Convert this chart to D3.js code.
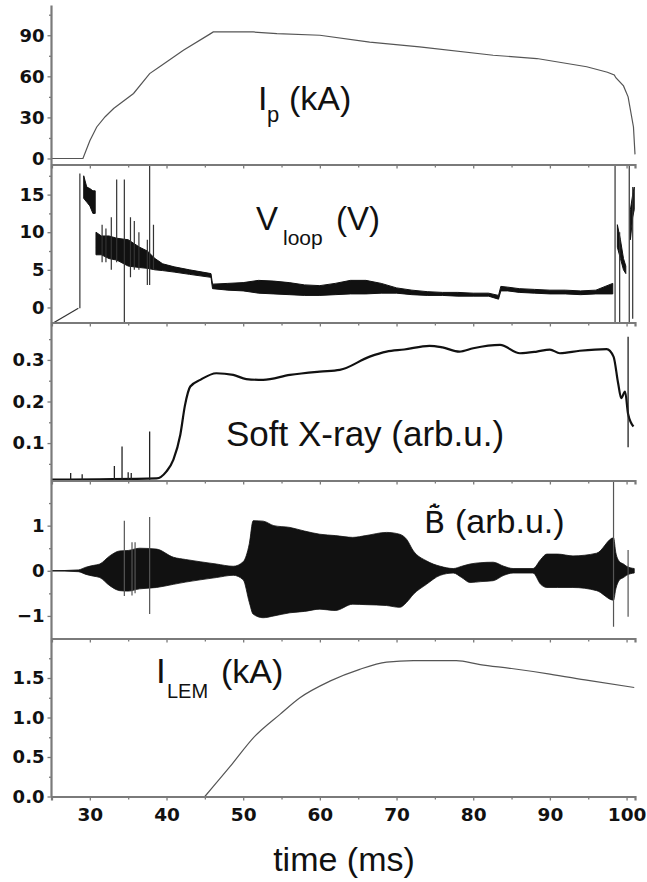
<!DOCTYPE html>
<html>
<head>
<meta charset="utf-8">
<script src="https://cdn.jsdelivr.net/npm/d3@7"></script>
<style>
  body { margin: 0; background: #fff; }
  svg { display: block; }
</style>
</head>
<body>
<div id="chart"></div>
<script>
// ---- data ----
// plasma current Ip (kA)
const ipT = [25, 29.1, 30.0, 30.9, 32.0, 33.1, 35.7, 37.8, 39.1, 42.2, 45.7, 46.1, 51.3, 54.4, 60.0, 66.5, 73.0, 82.6, 88.3, 94.8, 97.5, 98.4, 98.6, 99.6, 100.2, 100.9, 101.1]
const ipV = [0, 0, 13, 23, 30.5, 36.5, 47.5, 62, 67, 79, 91, 92.4, 92.4, 91.2, 90, 85, 81.5, 75.4, 73, 67, 63, 61, 59, 53, 45, 23, 3]

// loop voltage (V): ramp before breakdown, noisy band (low/high), spikes [t, low, high]
const vRampT = [24.5, 28.5]
const vRampV = [-2.5, -0.1]
const vBandT  = [29.2, 29.6, 30.0, 30.4, 30.7, null, 30.8, 31.5, 32.5, 33.5, 35, 36.5, 37.5, 38.5, 39.5, 41, 43, 45.8, 46.0, 48, 50, 52, 54, 56, 58, 60, 62, 64, 66, 68, 70, 72, 74, 76, 78, 80, 82, 83.3, 83.6, 84.5, 86, 88, 90, 92, 94, 96, 98.2, null, 98.8, 99.2, 99.6, 99.9, null, 100.5, 100.8, 101.0]
const vBandLo = [14.5, 14, 13.5, 12.5, 12.5, null, 7, 7, 6.5, 6.3, 5.5, 5.3, 5.2, 5.0, 4.9, 4.7, 4.4, 4.0, 2.5, 2.3, 2.2, 1.9, 1.8, 1.7, 1.6, 1.6, 1.7, 1.8, 1.8, 1.9, 1.9, 1.7, 1.6, 1.6, 1.5, 1.5, 1.5, 1.1, 2.2, 2.2, 2.0, 1.9, 1.8, 1.8, 1.7, 1.8, 1.8, null, 8, 6.5, 5, 4.5, null, 9, 12, 13]
const vBandHi = [17.5, 16, 15.8, 15.5, 15.5, null, 10, 9.5, 9.5, 9.2, 9, 8, 7.5, 6.5, 5.8, 5.4, 5.0, 4.5, 3.1, 3.2, 3.3, 3.6, 3.5, 3.3, 3.0, 2.9, 3.2, 3.6, 3.6, 3.2, 2.6, 2.3, 2.1, 2.0, 2.0, 1.9, 1.9, 1.6, 2.8, 2.7, 2.5, 2.4, 2.3, 2.3, 2.2, 2.3, 3.2, null, 11, 9, 6.5, 5.5, null, 13, 15, 16]
const vSpikes = [[28.7, -0.1, 17.8], [31.6, 6, 11], [32.1, 6, 10.5], [32.8, 5, 12], [33.5, 6, 17], [34.5, -2, 17], [35.3, 4, 12], [35.8, 5, 11.5], [36.4, 5, 10], [37.5, 3, 9], [37.8, 3, 19], [38.3, 5, 11], [98.5, -2, 19], [99.1, -2, 10], [100.35, -2, 19], [100.8, -1.5, 16]]

// soft X-ray (arb.u.)
const sxT = [25, 38.7, 40.0, 40.9, 41.8, 42.4, 43.1, 44.4, 46.5, 48.7, 50.4, 52.6, 56.1, 60, 62.6, 66.5, 68.7, 71, 74.3, 76, 78.2, 80, 83.5, 86.1, 88.3, 90, 91.3, 93.9, 97.4, 98.3, 98.9, 99.3, 99.8, 100.2, 100.9]
const sxV = [0.012, 0.015, 0.032, 0.06, 0.12, 0.19, 0.236, 0.252, 0.268, 0.264, 0.254, 0.252, 0.264, 0.272, 0.276, 0.308, 0.32, 0.325, 0.334, 0.33, 0.32, 0.328, 0.336, 0.316, 0.32, 0.325, 0.316, 0.322, 0.326, 0.308, 0.244, 0.208, 0.224, 0.17, 0.14]
const sxSpikes = [[27.5, 0.012, 0.028], [29.0, 0.012, 0.025], [33.2, 0.012, 0.045], [34.2, 0.012, 0.092], [35.0, 0.012, 0.03], [35.4, 0.012, 0.028], [37.8, 0.012, 0.128], [100.2, 0.09, 0.356]]

// magnetic fluctuation dB/dt (arb.u.) envelope
const bT  = [25, 28.5, 29.5, 30.5, 31.3, 32.6, 33.9, 35, 36.5, 38.7, 40.9, 42.5, 44.4, 46.5, 48.7, 50.0, 50.8, 51.3, 52.6, 54, 56.1, 58, 60, 62, 64.3, 66, 68.7, 70.4, 71.3, 72.2, 73.9, 75.7, 77.4, 78.5, 79.6, 81, 82.6, 84, 85.2, 87.8, 88.8, 89.6, 91, 93.0, 96.1, 98.3, 98.6, 99.1, 99.6, 100.0, 101]
const bHi = [0, 0.02, 0.08, 0.12, 0.15, 0.33, 0.44, 0.45, 0.5, 0.48, 0.3, 0.25, 0.2, 0.15, 0.1, 0.2, 0.6, 1.11, 1.1, 1.0, 0.96, 0.88, 0.81, 0.78, 0.74, 0.78, 0.85, 0.81, 0.7, 0.44, 0.22, 0.1, 0.05, 0.1, 0.15, 0.18, 0.19, 0.1, 0.05, 0.05, 0.25, 0.37, 0.37, 0.33, 0.39, 0.73, 0.4, 0.2, 0.15, 0.1, 0.05]
const bLo = [0, -0.02, -0.08, -0.12, -0.15, -0.33, -0.44, -0.45, -0.4, -0.37, -0.3, -0.25, -0.2, -0.15, -0.1, -0.2, -0.7, -0.96, -1.04, -1.0, -0.93, -0.9, -0.85, -0.88, -0.74, -0.75, -0.77, -0.81, -0.7, -0.52, -0.3, -0.1, -0.05, -0.15, -0.26, -0.24, -0.22, -0.1, -0.05, -0.05, -0.3, -0.37, -0.37, -0.37, -0.44, -0.65, -0.4, -0.2, -0.15, -0.1, -0.05]
const bSpikes = [[34.5, -0.56, 1.11], [35.5, -0.55, 0.63], [35.9, -0.5, 0.63], [37.8, -0.96, 1.19], [98.3, -1.24, 2.0], [100.2, -1.02, 0.46]]

// LEM current (kA)
const lemT = [45.0, 48.3, 51.5, 54.8, 57.4, 61.3, 65.2, 68.7, 72.2, 77.8, 80.9, 85, 90, 95, 101]
const lemV = [0, 0.38, 0.76, 1.04, 1.25, 1.46, 1.61, 1.70, 1.72, 1.72, 1.67, 1.62, 1.55, 1.47, 1.38]

// axes
const xDomain = [25, 101.1]
const xTicks = [30, 40, 50, 60, 70, 80, 90, 100]
const xMinor = [25, 35, 45, 55, 65, 75, 85, 95]
const yDomains = [[-4.4, 111], [-2, 19], [0.01, 0.39], [-1.5, 2], [0, 2]]
const yTicks = [[0, 30, 60, 90], [0, 5, 10, 15], [0.1, 0.2, 0.3], [-1, 0, 1], [0, 0.5, 1.0, 1.5]]
const yMinor = [[15, 45, 75, 105], [2.5, 7.5, 12.5, 17.5], [0.05, 0.15, 0.25, 0.35], [-0.5, 0.5, 1.5], [0.25, 0.75, 1.25, 1.75]]
const yFormats = ['d', 'd', '.1f', 'd', '.1f']

// ---- drawing ----
var width = 647, height = 882
var left = 51.5, right = 635, top0 = 6.5, ph = 158
var axisColor = '#7a7a7a'
var tickFont = "'DejaVu Sans', sans-serif"
var labelFont = "'Liberation Sans', Arial, sans-serif"

var svg = d3.select('#chart').append('svg')
    .attr('width', width)
    .attr('height', height)

var x = d3.scaleLinear().domain(xDomain).range([left, right])

// one y scale per panel
var ys = yDomains.map(function (dom, i) {
    return d3.scaleLinear().domain(dom).range([top0 + ph * (i + 1), top0 + ph * i])
})

var defs = svg.append('defs')
ys.forEach(function (y, i) {
    defs.append('clipPath').attr('id', 'clip' + i)
        .append('rect')
        .attr('x', left).attr('y', top0 + ph * i)
        .attr('width', right - left + 2).attr('height', ph)
})

// panels
var panels = ys.map(function (y, i) {
    return svg.append('g').attr('clip-path', 'url(#clip' + i + ')')
})

function pts(t, v) { return t.map(function (d, i) { return [d, v[i]] }) }
function band(t, lo, hi) { return t.map(function (d, i) { return { t: d, lo: lo[i], hi: hi[i] } }) }

// Ip
panels[0].append('path')
    .datum(pts(ipT, ipV))
    .attr('fill', 'none').attr('stroke', '#555').attr('stroke-width', 1.2)
    .attr('d', d3.line().x(d => x(d[0])).y(d => ys[0](d[1])))

// Vloop
panels[1].append('path')
    .datum(pts(vRampT, vRampV))
    .attr('fill', 'none').attr('stroke', '#333').attr('stroke-width', 1.2)
    .attr('d', d3.line().x(d => x(d[0])).y(d => ys[1](d[1])))
panels[1].append('path')
    .datum(band(vBandT, vBandLo, vBandHi))
    .attr('fill', '#111').attr('stroke', '#111').attr('stroke-width', 1)
    .attr('d', d3.area().defined(d => d.t != null)
        .x(d => x(d.t)).y0(d => ys[1](d.lo)).y1(d => ys[1](d.hi)))
panels[1].selectAll('line.spike')
    .data(vSpikes).enter().append('line')
    .attr('x1', d => x(d[0])).attr('x2', d => x(d[0]))
    .attr('y1', d => ys[1](d[1])).attr('y2', d => ys[1](d[2]))
    .attr('stroke', '#333').attr('stroke-width', 1.2)

// soft X-ray
panels[2].append('path')
    .datum(pts(sxT, sxV))
    .attr('fill', 'none').attr('stroke', '#111').attr('stroke-width', 2.2)
    .attr('stroke-linejoin', 'round')
    .attr('d', d3.line().curve(d3.curveMonotoneX).x(d => x(d[0])).y(d => ys[2](d[1])))
panels[2].selectAll('line.spike')
    .data(sxSpikes).enter().append('line')
    .attr('x1', d => x(d[0])).attr('x2', d => x(d[0]))
    .attr('y1', d => ys[2](d[1])).attr('y2', d => ys[2](d[2]))
    .attr('stroke', '#222').attr('stroke-width', 1.3)

// B-dot: thin zero trace under the envelope
var bData = band(bT, bLo, bHi)
panels[3].append('path')
    .datum(bData)
    .attr('fill', 'none').attr('stroke', '#666').attr('stroke-width', 1)
    .attr('d', d3.line().x(d => x(d.t)).y(d => ys[3]((d.lo + d.hi) / 2)))
panels[3].append('path')
    .datum(bData)
    .attr('fill', '#111').attr('stroke', '#111').attr('stroke-width', 0.8)
    .attr('d', d3.area().curve(d3.curveMonotoneX)
        .x(d => x(d.t)).y0(d => ys[3](d.lo)).y1(d => ys[3](d.hi)))
panels[3].selectAll('line.spike')
    .data(bSpikes).enter().append('line')
    .attr('x1', d => x(d[0])).attr('x2', d => x(d[0]))
    .attr('y1', d => ys[3](d[1])).attr('y2', d => ys[3](d[2]))
    .attr('stroke', '#555').attr('stroke-width', 1.2)

// I_LEM
panels[4].append('path')
    .datum(pts(lemT, lemV))
    .attr('fill', 'none').attr('stroke', '#555').attr('stroke-width', 1.2)
    .attr('d', d3.line().curve(d3.curveMonotoneX).x(d => x(d[0])).y(d => ys[4](d[1])))

// y axes
ys.forEach(function (y, i) {
    var gMinor = svg.append('g').attr('transform', `translate(${left},0)`)
        .call(d3.axisLeft(y).tickValues(yMinor[i].filter(v => v <= yDomains[i][1])).tickSize(2.5).tickFormat(''))
    gMinor.select('.domain').remove()
    var g = svg.append('g').attr('transform', `translate(${left},0)`)
        .call(d3.axisLeft(y).tickValues(yTicks[i]).tickSize(4).tickPadding(3).tickFormat(d3.format(yFormats[i])))
    g.select('.domain').remove()
    g.selectAll('text')
        .attr('font-family', tickFont).attr('font-weight', 'bold')
        .attr('font-size', 18).attr('fill', '#111')
})

// x tick rows on each panel edge (ticks point down)
for (var i = 1; i <= 5; i++) {
    var yy = top0 + ph * i
    var last = i === 5
    svg.append('g').attr('transform', `translate(0,${yy})`)
        .call(d3.axisBottom(x).tickValues(xMinor).tickSize(3).tickFormat(''))
        .select('.domain').remove()
    var gx = svg.append('g').attr('transform', `translate(0,${yy})`)
        .call(d3.axisBottom(x).tickValues(xTicks).tickSize(4).tickPadding(7)
            .tickFormat(last ? d3.format('d') : ''))
    gx.select('.domain').attr('stroke', axisColor).attr('stroke-width', 2.2)
    gx.selectAll('text')
        .attr('font-family', tickFont).attr('font-weight', 'bold')
        .attr('font-size', 18.5).attr('fill', '#111')
}
svg.selectAll('.tick line').attr('stroke', axisColor).attr('stroke-width', 1.3)

// y axis line
svg.append('line')
    .attr('x1', left).attr('x2', left)
    .attr('y1', top0 - 1).attr('y2', top0 + ph * 5)
    .attr('stroke', axisColor).attr('stroke-width', 2.2)

// panel labels
function label(parts) {
    var t = svg.append('text').attr('font-family', labelFont).attr('fill', '#111')
    parts.forEach(function (p) {
        var s = t.append('tspan').attr('x', p[1]).attr('y', p[2]).attr('font-size', p[3]).text(p[0])
        if (p[4]) s.attr('font-family', p[4])
    })
}
label([['I', 258, 110, 34], ['p', 267, 122, 22], ['(kA)', 289, 110, 34]])
label([['V', 256, 230, 33], ['loop', 283, 245, 21], ['(V)', 336, 230, 33]])
label([['Soft X-ray (arb.u.)', 226, 446, 35]])
// B with combining tilde and dot above (stacked by the font's mark positioning)
label([['B\u0303\u0307', 424, 533, 31, "'DejaVu Sans', sans-serif"], ['(arb.u.)', 455, 533, 34]])
label([['I', 156, 683, 35], ['LEM', 167, 698, 20], ['(kA)', 221, 683, 34]])

// x axis title
svg.append('text')
    .attr('x', 344).attr('y', 871)
    .attr('text-anchor', 'middle')
    .attr('font-family', labelFont).attr('font-size', 34).attr('fill', '#111')
    .text('time (ms)')
</script>
</body>
</html>
